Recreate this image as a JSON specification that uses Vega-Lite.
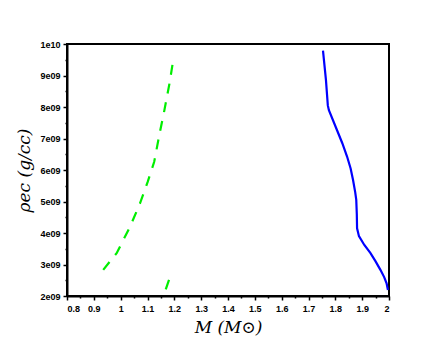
{
  "$schema": "https://vega.github.io/schema/vega-lite/v6.json",
  "autosize": "none",
  "width": 322,
  "height": 252,
  "padding": {"left": 67, "top": 44, "right": 56, "bottom": 55},
  "background": "white",
  "config": {
    "view": {"stroke": "black", "strokeWidth": 2},
    "axis": {
      "domainColor": "black", "domainWidth": 2, "tickColor": "black", "tickWidth": 1.5,
      "labelFont": "Liberation Sans", "labelFontWeight": "bold", "labelFontSize": 9, "labelColor": "black",
      "titleFont": "DejaVu Serif", "titleFontStyle": "italic", "titleFontWeight": "normal", "titleFontSize": 17, "titleColor": "black",
      "grid": false
    }
  },
  "data": {"values": [
    {"M": 1.754, "rho": 9.79e9, "s": "blue", "seg": "b"},
    {"M": 1.765, "rho": 8.86e9, "s": "blue", "seg": "b"},
    {"M": 1.772, "rho": 8.05e9, "s": "blue", "seg": "b"},
    {"M": 1.776, "rho": 7.90e9, "s": "blue", "seg": "b"},
    {"M": 1.806, "rho": 7.27e9, "s": "blue", "seg": "b"},
    {"M": 1.826, "rho": 6.85e9, "s": "blue", "seg": "b"},
    {"M": 1.844, "rho": 6.42e9, "s": "blue", "seg": "b"},
    {"M": 1.857, "rho": 6.05e9, "s": "blue", "seg": "b"},
    {"M": 1.866, "rho": 5.68e9, "s": "blue", "seg": "b"},
    {"M": 1.874, "rho": 5.30e9, "s": "blue", "seg": "b"},
    {"M": 1.878, "rho": 5.05e9, "s": "blue", "seg": "b"},
    {"M": 1.880, "rho": 4.60e9, "s": "blue", "seg": "b"},
    {"M": 1.881, "rho": 4.15e9, "s": "blue", "seg": "b"},
    {"M": 1.888, "rho": 3.90e9, "s": "blue", "seg": "b"},
    {"M": 1.908, "rho": 3.62e9, "s": "blue", "seg": "b"},
    {"M": 1.931, "rho": 3.36e9, "s": "blue", "seg": "b"},
    {"M": 1.950, "rho": 3.10e9, "s": "blue", "seg": "b"},
    {"M": 1.968, "rho": 2.83e9, "s": "blue", "seg": "b"},
    {"M": 1.982, "rho": 2.60e9, "s": "blue", "seg": "b"},
    {"M": 1.991, "rho": 2.40e9, "s": "blue", "seg": "b"},
    {"M": 1.996, "rho": 2.19e9, "s": "blue", "seg": "b"},
    {"M": 1.197, "rho": 9.55e9, "s": "green", "seg": "g1"},
    {"M": 1.182, "rho": 8.75e9, "s": "green", "seg": "g1"},
    {"M": 1.163, "rho": 7.90e9, "s": "green", "seg": "g1"},
    {"M": 1.144, "rho": 7.11e9, "s": "green", "seg": "g1"},
    {"M": 1.125, "rho": 6.26e9, "s": "green", "seg": "g1"},
    {"M": 1.101, "rho": 5.63e9, "s": "green", "seg": "g1"},
    {"M": 1.072, "rho": 4.94e9, "s": "green", "seg": "g1"},
    {"M": 1.035, "rho": 4.20e9, "s": "green", "seg": "g1"},
    {"M": 0.985, "rho": 3.36e9, "s": "green", "seg": "g1"},
    {"M": 0.935, "rho": 2.83e9, "s": "green", "seg": "g1"},
    {"M": 1.181, "rho": 2.53e9, "s": "green", "seg": "g2"},
    {"M": 1.168, "rho": 2.21e9, "s": "green", "seg": "g2"}
  ]},
  "encoding": {
    "x": {"field": "M", "type": "quantitative",
      "scale": {"domain": [0.8, 2], "nice": false, "zero": false},
      "axis": {"title": "M (M⊙)", "titlePadding": 6, "labelPadding": 4,
        "values": [0.8,0.85,0.9,0.95,1,1.05,1.1,1.15,1.2,1.25,1.3,1.35,1.4,1.45,1.5,1.55,1.6,1.65,1.7,1.75,1.8,1.85,1.9,1.95,2],
        "labelExpr": "abs(datum.value*10 - round(datum.value*10)) < 0.01 ? format(datum.value, '') : ''",
        "tickSize": {"condition": {"test": "abs(datum.value*10 - round(datum.value*10)) < 0.01", "value": 4}, "value": 2}
      }},
    "y": {"field": "rho", "type": "quantitative",
      "scale": {"domain": [2e9, 1e10], "nice": false, "zero": false},
      "axis": {"title": "ρec (g/cc)", "titlePadding": 6, "labelPadding": 3,
        "values": [2e9,2.5e9,3e9,3.5e9,4e9,4.5e9,5e9,5.5e9,6e9,6.5e9,7e9,7.5e9,8e9,8.5e9,9e9,9.5e9,1e10],
        "labelExpr": "datum.value == 1e10 ? '1e10' : (datum.value % 1e9 == 0 ? (datum.value/1e9) + 'e09' : '')",
        "tickSize": {"condition": {"test": "datum.value % 1e9 == 0", "value": 4}, "value": 2}
      }}
  },
  "layer": [
    {"transform": [{"filter": "datum.s == 'blue'"}],
     "mark": {"type": "line", "color": "#0000ff", "strokeWidth": 2.2, "interpolate": "linear"},
     "encoding": {"order": {"field": "rho", "type": "quantitative"}}},
    {"transform": [{"filter": "datum.s == 'green'"}],
     "mark": {"type": "line", "color": "#00ee00", "strokeWidth": 2.2, "strokeDash": [10, 9], "interpolate": "linear"},
     "encoding": {"detail": {"field": "seg"}, "order": {"field": "rho", "type": "quantitative"}}}
  ]
}
